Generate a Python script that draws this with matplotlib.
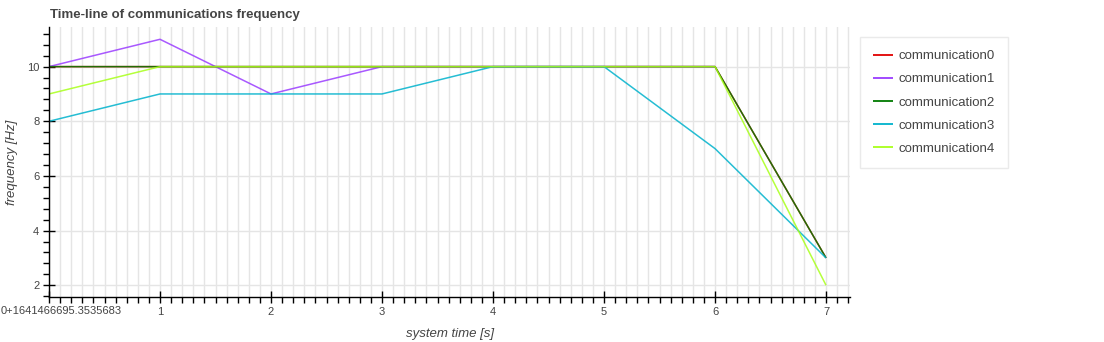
import matplotlib
matplotlib.use("Agg")
import matplotlib.pyplot as plt
from matplotlib.ticker import MultipleLocator, FixedLocator, FuncFormatter

plt.rcParams['font.family'] = ['Liberation Sans', 'DejaVu Sans']

# Seconds since the first sample
time_s = [0, 1, 2, 3, 4, 5, 6, 7]
time_origin = "1641466695.3535683"

names = ["communication0", "communication1", "communication2",
         "communication3", "communication4"]
comm0 = [10, 10, 10, 10, 10, 10, 10, 3]
comm1 = [10, 11, 9, 10, 10, 10, 10]
comm2 = [10, 10, 10, 10, 10, 10, 10, 3]
comm3 = [8, 9, 9, 9, 10, 10, 7, 3]
comm4 = [9, 10, 10, 10, 10, 10, 10, 2]
series = [comm0, comm1, comm2, comm3, comm4]
colors = ["#e00000", "#9a3cff", "#007a00", "#00b2cc", "#a8ff1a"]

W, H, DPI = 1104, 342, 100
fig = plt.figure(figsize=(W / DPI, H / DPI), dpi=DPI)
left, right, top, bottom = 49, 850, 27, 297
ax = fig.add_axes([left / W, 1 - bottom / H, (right - left) / W, (bottom - top) / H])

for vals, name, c in zip(series, names, colors):
    ax.plot(time_s[:len(vals)], vals, color=c, lw=1.1, alpha=0.85, label=name,
            solid_capstyle='butt')

ax.set_xlim(0, 7.216)
ax.set_ylim(1.57, 11.45)

ax.xaxis.set_major_locator(FixedLocator(time_s))
ax.xaxis.set_minor_locator(MultipleLocator(0.1))
ax.yaxis.set_major_locator(MultipleLocator(2))
ax.yaxis.set_minor_locator(MultipleLocator(0.4))

# The origin label is drawn separately so it stays inside the canvas
def xfmt(v, pos):
    if abs(v) < 1e-9:
        return ""
    return f"{v:g}"
ax.xaxis.set_major_formatter(FuncFormatter(xfmt))

grid_c = "#e5e5e5"
ax.grid(True, which='major', axis='y', color=grid_c, lw=1)
ax.grid(True, which='both', axis='x', color=grid_c, lw=1)
ax.set_axisbelow(True)

for s in ['top', 'right']:
    ax.spines[s].set_visible(False)
for s in ['left', 'bottom']:
    ax.spines[s].set_color('black')
    ax.spines[s].set_linewidth(1)

ax.tick_params(which='major', direction='inout', length=8, width=1, color='black',
               labelsize=8, labelcolor='#444444', pad=3)
ax.tick_params(which='minor', direction='out', length=4, width=1, color='black')

fig.text(1 / W, 1 - 311 / H, "0+" + time_origin, fontsize=8, color='#444444',
         ha='left', va='center')

ax.set_xlabel("system time [s]", fontsize=9.5, style='italic', color='#444444', labelpad=8)
ax.set_ylabel("frequency [Hz]", fontsize=9.5, style='italic', color='#444444')
ax.yaxis.label.set_va('center')
ax.yaxis.set_label_coords((12 - left) / (right - left), 0.5)

fig.text(50 / W, 1 - 15 / H, "Time-line of communications frequency", fontsize=9.5,
         fontweight='bold', color='#444444', va='center', ha='left')

leg = ax.legend(loc='upper left', bbox_to_anchor=(860 / W, 1 - 37 / H),
                bbox_transform=fig.transFigure, frameon=True, fontsize=9.5,
                handlelength=1.5, handletextpad=0.4, labelspacing=0.82,
                borderpad=1.0, borderaxespad=0, fancybox=False, labelcolor='#444444')
leg.get_frame().set_edgecolor('#e5e5e5')
leg.get_frame().set_linewidth(1)
for lh in leg.get_lines():
    lh.set_alpha(1.0)
    lh.set_linewidth(1.3)

fig.savefig("out.png", dpi=DPI)
